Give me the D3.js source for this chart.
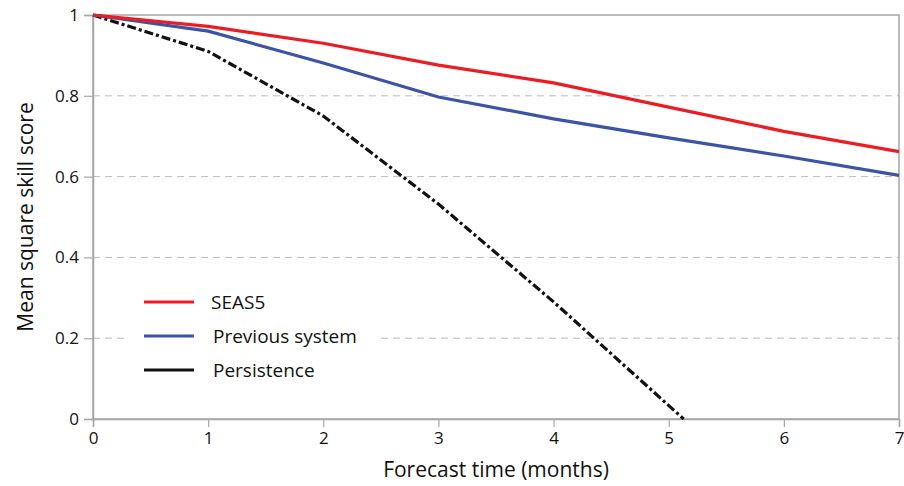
<!DOCTYPE html>
<html>
<head>
<meta charset="utf-8">
<script src="https://cdn.jsdelivr.net/npm/d3@7.9.0/dist/d3.min.js"></script>
<style>
  body { margin: 0; background: #fff; }
  svg { font-family: "Open Sans", "Noto Sans", sans-serif; }
</style>
</head>
<body>
<svg width="904" height="486"></svg>
<script>
const months = [0, 1, 2, 3, 4, 5, 6, 7];
const seas5 = [1, 0.972, 0.93, 0.876, 0.832, 0.772, 0.712, 0.662];
const previous = [1, 0.96, 0.881, 0.797, 0.743, 0.696, 0.651, 0.603];
const persistenceX = [0, 1, 2, 3, 4, 5.13];
const persistence = [1, 0.91, 0.75, 0.532, 0.29, 0];
const yTicks = [0, 0.2, 0.4, 0.6, 0.8, 1];
const legendItems = [
  { label: 'SEAS5', color: '#ec1c24', dx: 0 },
  { label: 'Previous system', color: '#3b54a5', dx: 2 },
  { label: 'Persistence', color: '#111', dx: 2 }
];

const svg = d3.select('svg');
const x = d3.scaleLinear().domain([0, 7]).range([93, 899]);
const y = d3.scaleLinear().domain([0, 1]).range([419, 15]);

// gridlines
svg.append('g')
  .selectAll('line')
  .data(yTicks.filter(d => d > 0 && d < 1))
  .enter()
  .append('line')
  .attr('x1', x(0)).attr('x2', x(7))
  .attr('y1', d => y(d)).attr('y2', d => y(d))
  .attr('stroke', '#bcbcbc')
  .attr('stroke-width', 1)
  .attr('stroke-dasharray', '7,5');

// frame
svg.append('rect')
  .attr('x', x(0)).attr('y', y(1))
  .attr('width', x(7) - x(0)).attr('height', y(0) - y(1))
  .attr('fill', 'none')
  .attr('stroke', '#a6a6a6')
  .attr('stroke-width', 1.5);

// axes
const xAxis = svg.append('g')
  .attr('transform', `translate(0,${y(0)})`)
  .call(d3.axisBottom(x).tickValues(months).tickSize(8).tickPadding(5).tickFormat(d3.format('d')));
const yAxis = svg.append('g')
  .attr('transform', `translate(${x(0)},0)`)
  .call(d3.axisLeft(y).tickValues(yTicks).tickSize(9).tickPadding(5).tickFormat(d => d === 0 || d === 1 ? d : d3.format('.1f')(d)));

[xAxis, yAxis].forEach(a => {
  a.select('.domain').attr('stroke', '#a6a6a6').attr('stroke-width', 1.5);
  a.selectAll('.tick line').attr('stroke', '#a6a6a6').attr('stroke-width', 1.2);
  a.selectAll('.tick text').attr('fill', '#111').attr('font-size', 17).attr('font-family', '"Open Sans", sans-serif');
});

// legend background hides the gridline behind it
svg.append('rect')
  .attr('x', 128).attr('y', 285).attr('width', 250).attr('height', 100)
  .attr('fill', '#fff');

const line = d3.line()
  .x(d => x(d[0]))
  .y(d => y(d[1]))
  .curve(d3.curveLinear);

svg.append('path')
  .datum(persistenceX.map((m, i) => [m, persistence[i]]))
  .attr('d', line)
  .attr('fill', 'none')
  .attr('stroke', '#111')
  .attr('stroke-width', 3.2)
  .attr('stroke-dasharray', '9,3,3,3');

svg.append('path')
  .datum(months.map((m, i) => [m, previous[i]]))
  .attr('d', line)
  .attr('fill', 'none')
  .attr('stroke', legendItems[1].color)
  .attr('stroke-width', 3.2);

svg.append('path')
  .datum(months.map((m, i) => [m, seas5[i]]))
  .attr('d', line)
  .attr('fill', 'none')
  .attr('stroke', legendItems[0].color)
  .attr('stroke-width', 3.2);

// legend
const legend = svg.append('g');
legendItems.forEach((d, i) => {
  const ly = 302 + i * 34;
  legend.append('line')
    .attr('x1', 144).attr('x2', 194)
    .attr('y1', ly).attr('y2', ly)
    .attr('stroke', d.color)
    .attr('stroke-width', 3.2);
  legend.append('text')
    .attr('x', 211 + d.dx).attr('y', ly)
    .attr('dy', '0.35em')
    .attr('font-size', 19)
    .attr('fill', '#111')
    .text(d.label);
});

// axis titles
svg.append('text')
  .attr('x', x(3.5)).attr('y', 477)
  .attr('text-anchor', 'middle')
  .attr('font-size', 21)
  .attr('fill', '#111')
  .text('Forecast time (months)');

svg.append('text')
  .attr('transform', 'translate(33,217) rotate(-90)')
  .attr('text-anchor', 'middle')
  .attr('font-size', 21)
  .attr('fill', '#111')
  .text('Mean square skill score');
</script>
</body>
</html>
